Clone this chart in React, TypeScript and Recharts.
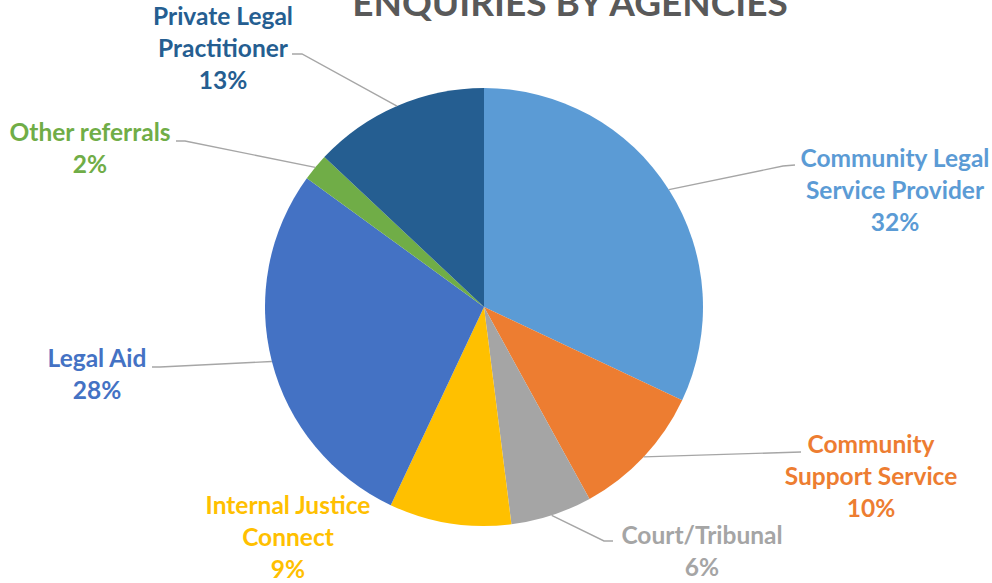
import React from 'react';
import { PieChart, Pie, Cell } from 'recharts';

const categories = [
  'Community Legal Service Provider',
  'Community Support Service',
  'Court/Tribunal',
  'Internal Justice Connect',
  'Legal Aid',
  'Other referrals',
  'Private Legal Practitioner',
];
const shares = [32, 10, 6, 9, 28, 2, 13];
const labelLines = [
  ['Community Legal', 'Service Provider'],
  ['Community', 'Support Service'],
  ['Court/Tribunal'],
  ['Internal Justice', 'Connect'],
  ['Legal Aid'],
  ['Other referrals'],
  ['Private Legal', 'Practitioner'],
];

const data = categories.map((name, i) => ({ name, value: shares[i] }));

const COLORS = ['#5B9BD5', '#ED7D31', '#A5A5A5', '#FFC000', '#4472C4', '#70AD47', '#255E91'];

// label placement relative to pie centre: text centre x, first baseline y, leader elbow + end
const LAYOUT = [
  { dx: 411, dy: -140, elbow: [299, -141], end: [311, -142] },
  { dx: 387, dy: 146, elbow: [317, 145], end: [317, 145] },
  { dx: 218, dy: 237, elbow: [120, 234], end: [129, 234] },
  { dx: -196, dy: 207, elbow: null, end: null },
  { dx: -387, dy: 60, elbow: [-324, 60], end: [-332, 60] },
  { dx: -394, dy: -166, elbow: [-299, -166], end: [-308, -166] },
  { dx: -261, dy: -282, elbow: [-182, -253], end: [-192, -253] },
];

const RADIAN = Math.PI / 180;
const FONT = 'Lato, "Open Sans", sans-serif';

const renderLabel = ({ cx, cy, midAngle, outerRadius, index }: any) => {
  const lay = LAYOUT[index];
  const color = COLORS[index];
  const sx = cx + outerRadius * Math.cos(-midAngle * RADIAN);
  const sy = cy + outerRadius * Math.sin(-midAngle * RADIAN);
  const lines = [...labelLines[index], `${shares[index]}%`];
  return (
    <g key={`lbl-${index}`}>
      {lay.elbow && (
        <polyline
          points={`${sx},${sy} ${cx + lay.elbow[0]},${cy + lay.elbow[1]} ${cx + lay.end[0]},${cy + lay.end[1]}`}
          fill="none"
          stroke="#A6A6A6"
          strokeWidth={1.4}
        />
      )}
      <text x={cx + lay.dx} y={cy + lay.dy} fill={color} textAnchor="middle" fontFamily={FONT} fontWeight="bold" fontSize={24.5}>
        {lines.map((l, i) => (
          <tspan key={i} x={cx + lay.dx} dy={i === 0 ? 0 : 32}>
            {l}
          </tspan>
        ))}
      </text>
    </g>
  );
};

const App: React.FC = () => {
  return (
    <div style={{ position: 'absolute', left: 0, top: 0, width: 992, height: 583, background: '#fff', overflow: 'hidden' }}>
      <div
        style={{
          position: 'absolute',
          left: 0,
          width: 1140,
          top: -20,
          textAlign: 'center',
          fontFamily: FONT,
          fontWeight: 'bold',
          fontSize: 37,
          color: '#595959',
          lineHeight: '44px',
        }}
      >
        ENQUIRIES BY AGENCIES
      </div>
      <PieChart width={992} height={583} margin={{ top: 0, right: 0, bottom: 0, left: 0 }}>
        <Pie
          data={data}
          dataKey="value"
          nameKey="name"
          cx={484}
          cy={307}
          outerRadius={219}
          startAngle={90}
          endAngle={-270}
          stroke="none"
          label={renderLabel}
          labelLine={false}
          isAnimationActive={false}
        >
          {data.map((entry, index) => (
            <Cell key={`cell-${index}`} fill={COLORS[index % COLORS.length]} />
          ))}
        </Pie>
      </PieChart>
    </div>
  );
};

export default App;
